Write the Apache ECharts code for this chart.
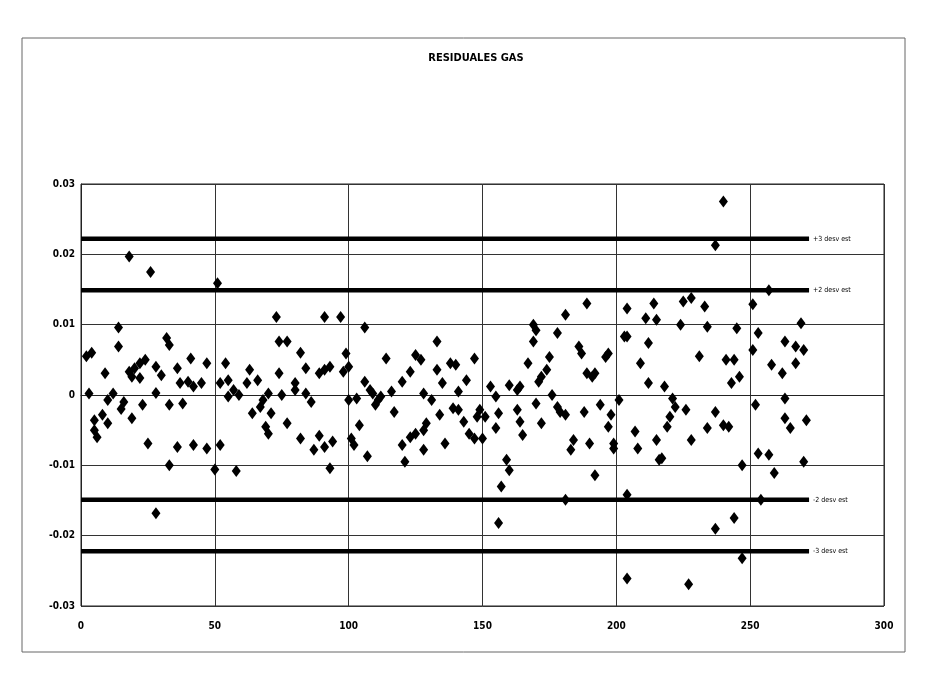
<!DOCTYPE html>
<html>
<head>
<meta charset="utf-8">
<script src="https://cdn.jsdelivr.net/npm/echarts@6/dist/echarts.min.js"></script>
<style>
html,body{margin:0;padding:0;background:#fff;}
#chart{width:927px;height:679px;}
</style>
</head>
<body>
<div id="chart"></div>
<script>
// Residual observations (x = observation number, y = residual)
const resX = [2,3,4,5,5,6,8,9,10,10,12,14,14,15,16,18,18,19,19,20,22,22,23,24,25,26,28,28,28,30,32,33,33,33,36,36,37,38,40,41,42,42,45,47,47,50,51,52,52,54,55,55,57,58,59,62,63,64,66,67,68,69,70,70,71,73,74,74,75,77,77,80,80,82,82,84,84,86,87,89,89,91,91,91,93,93,94,97,98,99,100,100,101,102,103,104,106,106,107,108,109,110,111,112,114,116,117,120,120,121,123,123,125,125,127,128,128,128,129,131,133,133,134,135,136,138,139,140,141,141,143,144,145,147,147,148,149,150,151,153,155,155,156,156,157,159,160,160,163,163,164,164,165,167,169,169,170,170,171,172,172,174,175,176,178,178,179,181,181,181,183,184,186,187,188,189,189,190,191,192,192,194,196,197,197,198,199,199,201,203,204,204,204,204,207,208,209,211,212,212,214,215,215,216,217,218,219,220,221,222,224,225,226,227,228,228,231,233,234,234,237,237,237,240,240,241,242,243,244,244,245,246,247,247,251,251,252,253,253,254,257,257,258,259,262,263,263,263,265,267,267,269,270,270,271];
const resY = [0.0055,0.0002,0.006,-0.0036,-0.005,-0.006,-0.0028,0.0031,-0.0007,-0.004,0.0002,0.0096,0.0069,-0.002,-0.001,0.0197,0.0033,0.0026,-0.0033,0.0038,0.0045,0.0024,-0.0014,0.005,-0.0069,0.0175,0.004,0.0003,-0.0168,0.0028,0.0081,0.0071,-0.0014,-0.01,0.0038,-0.0074,0.0017,-0.0012,0.0019,0.0052,0.0012,-0.0071,0.0017,0.0045,-0.0076,-0.0106,0.0159,0.0017,-0.0071,0.0045,-0.0002,0.0021,0.0007,-0.0108,0,0.0017,0.0036,-0.0026,0.0021,-0.0017,-0.0007,-0.0045,0.0002,-0.0055,-0.0026,0.0111,0.0076,0.0031,0,0.0076,-0.004,0.0017,0.0007,0.006,-0.0062,0.0038,0.0002,-0.001,-0.0078,0.0031,-0.0058,0.0111,0.0036,-0.0074,0.004,-0.0104,-0.0066,0.0111,0.0033,0.0059,0.004,-0.0007,-0.0062,-0.0071,-0.0005,-0.0043,0.0096,0.0019,-0.0087,0.0007,0.0002,-0.0014,-0.0007,-0.0002,0.0052,0.0005,-0.0024,0.0019,-0.0071,-0.0095,0.0033,-0.006,0.0057,-0.0055,0.005,0.0002,-0.005,-0.0078,-0.004,-0.0007,0.0076,0.0036,-0.0028,0.0017,-0.0069,0.0045,-0.0019,0.0043,0.0005,-0.0021,-0.0038,0.0021,-0.0055,0.0052,-0.0062,-0.0031,-0.0021,-0.0062,-0.0031,0.0012,-0.0002,-0.0047,-0.0026,-0.0182,-0.013,-0.0092,0.0014,-0.0107,0.0007,-0.0021,0.0012,-0.0038,-0.0057,0.0045,0.01,0.0076,0.0092,-0.0012,0.0019,0.0026,-0.004,0.0036,0.0054,0,0.0088,-0.0017,-0.0024,0.0114,-0.0028,-0.0149,-0.0078,-0.0064,0.0069,0.0059,-0.0024,0.013,0.0031,-0.0069,0.0026,0.0031,-0.0114,-0.0014,0.0054,0.0059,-0.0045,-0.0028,-0.0069,-0.0076,-0.0007,0.0083,0.0123,0.0083,-0.0142,-0.0261,-0.0052,-0.0076,0.0045,0.0109,0.0074,0.0017,0.013,0.0107,-0.0064,-0.0092,-0.009,0.0012,-0.0045,-0.0031,-0.0005,-0.0017,0.01,0.0133,-0.0021,-0.0269,0.0138,-0.0064,0.0055,0.0126,0.0097,-0.0047,0.0213,-0.0024,-0.019,0.0275,-0.0043,0.005,-0.0045,0.0017,0.005,-0.0175,0.0095,0.0026,-0.0232,-0.01,0.0129,0.0064,-0.0014,0.0088,-0.0083,-0.0149,0.0149,-0.0085,0.0043,-0.0111,0.0031,0.0076,-0.0005,-0.0033,-0.0047,0.0069,0.0045,0.0102,0.0064,-0.0095,-0.0036];

// Standard-deviation bands
const bandLabels = ['+3 desv est', '+2 desv est', '-2 desv est', '-3 desv est'];
const bandValues = [0.0222, 0.0149, -0.0149, -0.0222];
const bandRange = [0, 272];

const xTicks = [0, 50, 100, 150, 200, 250, 300];
const yTicks = [-0.03, -0.02, -0.01, 0, 0.01, 0.02, 0.03];
const titleText = 'RESIDUALES GAS';

const FONT = "'Liberation Sans Narrow', 'DejaVu Sans Condensed', 'Liberation Sans', sans-serif";

const chart = echarts.init(document.getElementById('chart'), null, {renderer: 'canvas'});

const scatterData = resX.map((x, i) => [x, resY[i]]);

const bandSeries = bandValues.map((v, i) => ({
  type: 'line',
  name: bandLabels[i],
  data: [[bandRange[0], v], [bandRange[1], v]],
  symbol: 'none',
  z: 2,
  lineStyle: {color: '#000', width: 4.5},
  silent: true,
  endLabel: {
    show: true,
    formatter: bandLabels[i],
    color: '#000',
    fontSize: 7,
    fontFamily: FONT,
    distance: 4
  }
}));

chart.setOption({
  animation: false,
  backgroundColor: '#fff',
  title: {
    text: titleText,
    left: 471,
    top: 48,
    textAlign: 'center',
    textStyle: {fontFamily: FONT, fontSize: 11, fontWeight: 'bold', color: '#000'}
  },
  graphic: [{
    type: 'rect',
    shape: {x: 22, y: 38, width: 883, height: 614},
    style: {fill: 'none', stroke: '#666', lineWidth: 1},
    silent: true,
    z: -1
  }],
  grid: {
    left: 81, right: 43, top: 184, bottom: 73,
    show: true, borderColor: '#222', borderWidth: 1
  },
  xAxis: {
    type: 'value',
    min: xTicks[0], max: xTicks[xTicks.length - 1], interval: 50,
    axisLine: {show: true, lineStyle: {color: '#222'}},
    axisTick: {show: false},
    splitLine: {show: true, lineStyle: {color: '#333', width: 1}},
    axisLabel: {
      color: '#000', fontFamily: FONT, fontSize: 10, fontWeight: 'bold', margin: 15
    }
  },
  yAxis: {
    type: 'value',
    min: yTicks[0], max: yTicks[yTicks.length - 1], interval: 0.01,
    axisLine: {show: true, lineStyle: {color: '#222'}},
    axisTick: {show: false},
    splitLine: {show: true, lineStyle: {color: '#333', width: 1}},
    axisLabel: {
      color: '#000', fontFamily: FONT, fontSize: 10, fontWeight: 'bold', margin: 6,
      formatter: v => (Math.abs(v) < 1e-9 ? '0' : (+v.toFixed(2)).toFixed(2))
    }
  },
  series: bandSeries.concat([{
    type: 'scatter',
    name: 'residuales',
    data: scatterData,
    symbol: 'diamond',
    symbolSize: [9, 12],
    z: 3,
    itemStyle: {color: '#000', opacity: 1}
  }])
});
</script>
</body>
</html>
